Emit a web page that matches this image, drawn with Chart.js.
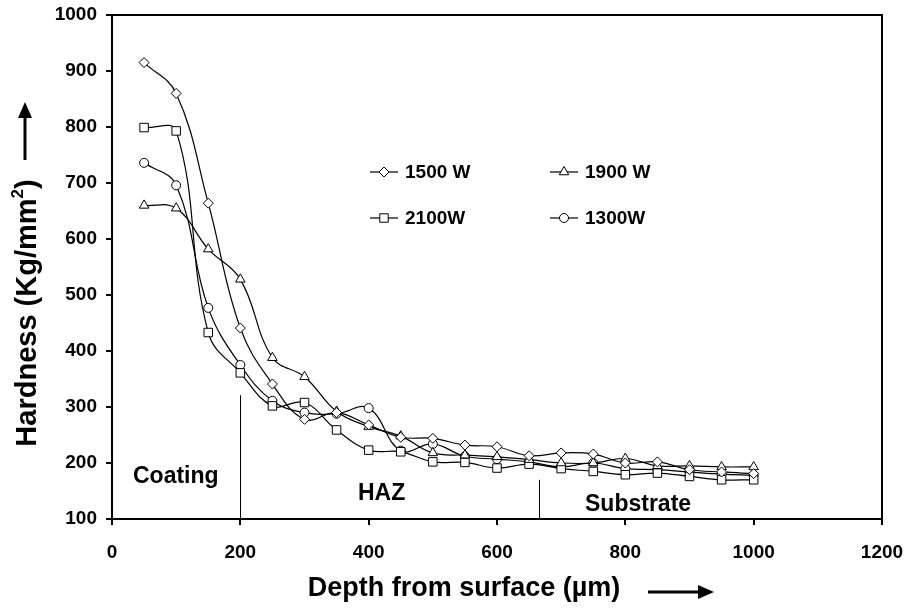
<!DOCTYPE html>
<html>
<head>
<meta charset="utf-8">
<script src="https://cdn.jsdelivr.net/npm/chart.js"></script>
<style>
  body { margin: 0; background: #fff; }
</style>
</head>
<body>
<canvas id="myChart" width="909" height="608"></canvas>
<script>
// depth (µm) and hardness (Kg/mm2)
const depth = [50,100,150,200,250,300,350,400,450,500,550,600,650,700,750,800,850,900,950,1000];
const w1500 = [915,860,664,441,341,278,290,268,246,244,232,229,213,218,216,200,202,188,184,181];
const w1900 = [660,655,582,528,388,354,292,265,248,218,214,211,206,200,200,208,195,195,193,193];
const w2100 = [799,793,433,361,302,308,259,223,220,202,201,191,198,190,185,179,182,176,170,170];
const w1300 = [736,696,477,375,311,290,288,298,222,234,212,207,202,193,200,190,188,184,180,178];

const xTicks = [0,200,400,600,800,1000,1200];
const yTicks = [100,200,300,400,500,600,700,800,900,1000];

// zone markers: [label, x of divider line, top of divider line]
const zones = [["Coating", 200, 321], ["Substrate", 665, 170]];

function pts(ys) {
  return ys.map((y, i) => ({x: depth[i], y: y}));
}

function series(label, ys, style, r) {
  return {
    label: label,
    data: pts(ys),
    borderColor: "#000",
    borderWidth: 1.2,
    backgroundColor: "#fff",
    pointStyle: style,
    pointRadius: r,
    pointBorderWidth: 1,
    pointBorderColor: "#000",
    pointBackgroundColor: "#fff",
    tension: 0.4,
    fill: false
  };
}

const datasets = [
  series("1500 W", w1500, "rectRot", 5),
  series("1900 W", w1900, "triangle", 5.5),
  series("2100W", w2100, "rect", 6),
  series("1300W", w1300, "circle", 4.5)
];

const bold = (s) => "bold " + s + "px 'Liberation Sans', Arial, sans-serif";

const extras = {
  id: "extras",
  afterDraw(chart) {
    const c = chart.ctx, a = chart.chartArea;
    const xs = chart.scales.x, ys = chart.scales.y;
    c.save();
    // top + right border of the plot box
    c.strokeStyle = "#000";
    c.lineWidth = 2;
    c.beginPath();
    c.moveTo(a.left, a.top); c.lineTo(a.right, a.top); c.lineTo(a.right, a.bottom);
    c.stroke();

    // zone dividers
    c.lineWidth = 1;
    zones.forEach(z => {
      const px = Math.round(xs.getPixelForValue(z[1])) + 0.5;
      c.beginPath();
      c.moveTo(px, ys.getPixelForValue(z[2]));
      c.lineTo(px, a.bottom);
      c.stroke();
    });

    c.fillStyle = "#000";
    c.textBaseline = "alphabetic";
    c.font = bold(23);
    c.textAlign = "left";
    c.fillText("Coating", 133, 483);
    c.fillText("HAZ", 358, 500);
    c.fillText("Substrate", 585, 511);

    // legend, 2 x 2 inside the plot
    const spots = [[370, 172], [550, 172], [370, 218], [550, 218]];
    c.font = bold(19);
    c.textBaseline = "middle";
    datasets.forEach((d, i) => {
      const [lx, ly] = spots[i];
      c.lineWidth = 1.2;
      c.strokeStyle = "#000";
      c.beginPath();
      c.moveTo(lx, ly); c.lineTo(lx + 28, ly);
      c.stroke();
      c.fillStyle = "#fff";
      c.lineWidth = 1;
      Chart.helpers.drawPoint(c, {pointStyle: d.pointStyle, radius: d.pointRadius, borderWidth: 1}, lx + 14, ly);
      c.fillStyle = "#000";
      c.fillText(d.label, lx + 35, ly + 1);
    });

    // axis titles with arrows
    c.font = bold(27);
    c.textAlign = "center";
    c.fillText("Depth from surface (\u00b5m)", 464, 589);
    c.lineWidth = 3;
    c.beginPath(); c.moveTo(648, 592); c.lineTo(700, 592); c.stroke();
    c.beginPath(); c.moveTo(714, 592); c.lineTo(698, 585); c.lineTo(698, 599); c.closePath(); c.fill();

    c.save();
    c.translate(28, 313);
    c.rotate(-Math.PI / 2);
    c.textAlign = "left";
    const main = "Hardness (Kg/mm";
    c.font = bold(29);
    const w1 = c.measureText(main).width;
    c.font = bold(17);
    const w2 = c.measureText("2").width;
    c.font = bold(29);
    const w3 = c.measureText(")").width;
    const start = -(w1 + w2 + w3) / 2;
    c.fillText(main, start, 0);
    c.font = bold(17);
    c.fillText("2", start + w1, -10);
    c.font = bold(29);
    c.fillText(")", start + w1 + w2, 0);
    c.restore();

    c.lineWidth = 3;
    c.beginPath(); c.moveTo(25, 160); c.lineTo(25, 116); c.stroke();
    c.beginPath(); c.moveTo(25, 102); c.lineTo(18, 118); c.lineTo(32, 118); c.closePath(); c.fill();
    c.restore();
  }
};

const tickFont = { family: "'Liberation Sans', Arial", weight: "bold", size: 19 };

const ctx = document.getElementById("myChart").getContext("2d");
const chart = new Chart(ctx, {
  type: "line",
  data: { datasets: datasets },
  options: {
    responsive: false,
    animation: false,
    layout: { padding: { top: 15, right: 27, left: 0, bottom: 0 } },
    plugins: { legend: { display: false }, tooltip: { enabled: false } },
    scales: {
      x: {
        type: "linear",
        min: 0, max: 1200,
        afterBuildTicks: (s) => { s.ticks = xTicks.map(v => ({value: v})); },
        afterFit: (s) => { s.height = 89; s.paddingLeft = 0; s.paddingRight = 0; },
        grid: { drawOnChartArea: false, drawTicks: true, tickLength: 6, color: "#000", lineWidth: 2 },
        border: { color: "#000", width: 2 },
        ticks: { color: "#000", font: tickFont, padding: 16, maxRotation: 0, callback: (v) => String(v) }
      },
      y: {
        min: 100, max: 1000,
        afterBuildTicks: (s) => { s.ticks = yTicks.map(v => ({value: v})); },
        afterFit: (s) => { s.width = 112; s.paddingTop = 0; s.paddingBottom = 0; },
        grid: { drawOnChartArea: false, drawTicks: true, tickLength: 6, color: "#000", lineWidth: 2 },
        border: { color: "#000", width: 2 },
        ticks: { color: "#000", font: tickFont, padding: 9, callback: (v) => String(v) }
      }
    }
  },
  plugins: [extras]
});
</script>
</body>
</html>
